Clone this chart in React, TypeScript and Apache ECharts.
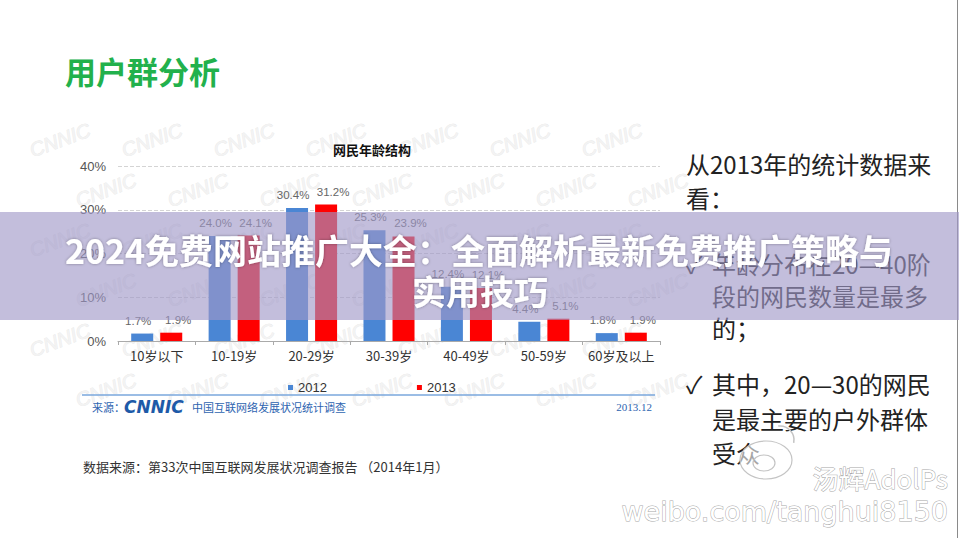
import React, { useEffect, useRef } from "react";
import * as echarts from "echarts";

const categories = ["10岁以下", "10-19岁", "20-29岁", "30-39岁", "40-49岁", "50-59岁", "60岁及以上"];
const series2012 = [1.7, 24.0, 30.4, 25.3, 12.4, 4.4, 1.8];
const series2013 = [1.9, 24.1, 31.2, 23.9, 12.1, 5.1, 1.9];
const yMin = 0;
const yMax = 40;
const yInterval = 10;
const legendNames = ["2012", "2013"];

const slideTitle = "用户群分析";
const chartTitle = "网民年龄结构";
const bannerLines = ["2024免费网站推广大全：全面解析最新免费推广策略与", "实用技巧"];
const rightLines = [
  "从2013年的统计数据来",
  "看：",
  "✓",
  "年龄分布在20—40阶",
  "段的网民数量是最多",
  "的；",
  "✓",
  "其中，20—30的网民",
  "是最主要的户外群体",
  "受众",
];
const sourceNote = "数据来源：第33次中国互联网发展状况调查报告 （2014年1月）";

const CJK = '"Noto Sans CJK SC", "Noto Sans", sans-serif';

export default function App() {
  const ref = useRef<HTMLDivElement>(null);
  useEffect(() => {
    if (!ref.current) return;
    const chart = echarts.init(ref.current, null, { renderer: "svg" });

    const watermarks: any[] = [];
    for (let r = 0; r < 6; r++) {
      for (let c = 0; c < 7; c++) {
        const x = 60 + c * 92 + (r % 2) * 46;
        const y = 140 + r * 50;
        watermarks.push({
          type: "text",
          x,
          y,
          rotation: 0.35,
          z: 0,
          silent: true,
          style: {
            text: "CNNIC",
            fill: "#f3f3f3",
            stroke: "#e6e6e6",
            lineWidth: 0.6,
            font: 'italic 20px "Liberation Sans", sans-serif',
            textAlign: "center",
            textVerticalAlign: "middle",
          },
        });
      }
    }

    const rightY = [163, 197, 263, 263, 295, 327, 383, 383, 418, 452];
    const rightX = [686, 686, 686, 712, 712, 712, 686, 712, 712, 712];
    const rightTexts = rightLines.map((t, i) => ({
      type: "text",
      x: rightX[i],
      y: rightY[i],
      z: 10,
      style: {
        text: t,
        fill: "#222",
        font: `24px ${CJK}`,
        textVerticalAlign: "middle",
      },
    }));

    const labelCfg = (dx: number) => ({
      show: true,
      position: "top",
      distance: 7,
      offset: [dx, 0],
      fontSize: 11.5,
      color: "#666",
      fontFamily: "Liberation Sans",
      formatter: (p: any) => p.value.toFixed(1) + "%",
    });

    const option: any = {
      animation: false,
      backgroundColor: "#ffffff",
      grid: { left: 118, right: 299, top: 166, bottom: 197 },
      legend: {
        data: legendNames,
        left: 283,
        top: 376,
        icon: "rect",
        itemWidth: 5,
        itemHeight: 5,
        itemGap: 90,
        textStyle: { fontSize: 13, color: "#333", fontFamily: "Liberation Sans" },
      },
      xAxis: {
        type: "category",
        data: categories,
        axisLine: { show: true, lineStyle: { color: "#aaa" } },
        axisTick: { show: true, length: 4, lineStyle: { color: "#aaa" } },
        axisLabel: { interval: 0, fontSize: 13, color: "#333", margin: 8, fontFamily: CJK },
      },
      yAxis: {
        type: "value",
        min: yMin,
        max: yMax,
        interval: yInterval,
        axisLine: { show: false },
        axisTick: { show: false },
        axisLabel: { formatter: "{value}%", fontSize: 13, color: "#555", margin: 12, fontFamily: "Liberation Sans" },
        splitLine: { lineStyle: { color: "#d4d4d4", type: "dashed" } },
      },
      series: [
        {
          name: legendNames[0],
          type: "bar",
          data: series2012,
          barWidth: 22,
          barGap: "32%",
          itemStyle: { color: "#4a86d4" },
          label: labelCfg(-4),
        },
        {
          name: legendNames[1],
          type: "bar",
          data: series2013,
          barWidth: 22,
          itemStyle: { color: "#ff0000" },
          label: labelCfg(7),
        },
      ],
      graphic: [
        ...watermarks,
        {
          type: "text",
          x: 65,
          y: 70,
          z: 10,
          style: { text: slideTitle, fill: "#22b14c", font: `bold 31px ${CJK}`, textVerticalAlign: "middle" },
        },
        {
          type: "text",
          x: 372,
          y: 149,
          z: 10,
          style: { text: chartTitle, fill: "#111", font: `bold 13px ${CJK}`, textAlign: "center", textVerticalAlign: "middle" },
        },
        {
          type: "line",
          z: 10,
          shape: { x1: 82, y1: 395, x2: 655, y2: 395 },
          style: { stroke: "#7aa7dc", lineWidth: 1.5 },
        },
        {
          type: "text",
          x: 92,
          y: 407,
          z: 10,
          style: { text: "来源：", fill: "#2e64b0", font: `11px ${CJK}`, textVerticalAlign: "middle" },
        },
        {
          type: "text",
          x: 124,
          y: 407,
          z: 10,
          style: { text: "CNNIC", fill: "#1e5aa8", font: 'italic 900 17px "DejaVu Sans", sans-serif', textVerticalAlign: "middle" },
        },
        {
          type: "text",
          x: 192,
          y: 407,
          z: 10,
          style: { text: "中国互联网络发展状况统计调查", fill: "#2e64b0", font: `11px ${CJK}`, textVerticalAlign: "middle" },
        },
        {
          type: "text",
          x: 652,
          y: 407,
          z: 10,
          style: { text: "2013.12", fill: "#2e64b0", font: '11px "Liberation Serif", serif', textAlign: "right", textVerticalAlign: "middle" },
        },
        {
          type: "text",
          x: 83,
          y: 466,
          z: 10,
          style: { text: sourceNote, fill: "#333", font: `13px ${CJK}`, textVerticalAlign: "middle" },
        },
        ...rightTexts,
        {
          type: "line",
          z: 10,
          shape: { x1: 957.5, y1: 0, x2: 957.5, y2: 538 },
          style: { stroke: "#8a8a8a", lineWidth: 1 },
        },
        {
          type: "rect",
          z: 50,
          silent: true,
          shape: { x: 0, y: 212, width: 959, height: 108 },
          style: { fill: "rgba(160,152,200,0.63)" },
        },
        {
          type: "text",
          x: 479,
          y: 249,
          z: 51,
          style: {
            text: bannerLines[0],
            fill: "#ffffff",
            font: `bold 34px ${CJK}`,
            textAlign: "center",
            textVerticalAlign: "middle",
            textShadowColor: "rgba(0,0,0,0.35)",
            textShadowBlur: 3,
          },
        },
        {
          type: "text",
          x: 480,
          y: 290,
          z: 51,
          style: {
            text: bannerLines[1],
            fill: "#ffffff",
            font: `bold 34px ${CJK}`,
            textAlign: "center",
            textVerticalAlign: "middle",
            textShadowColor: "rgba(0,0,0,0.35)",
            textShadowBlur: 3,
          },
        },
        {
          type: "ellipse",
          z: 60,
          shape: { cx: 766, cy: 460, rx: 26, ry: 19 },
          style: { fill: "rgba(255,255,255,0.6)", stroke: "#c4c4c4", lineWidth: 1.2 },
        },
        {
          type: "ellipse",
          z: 61,
          shape: { cx: 764, cy: 463, rx: 11, ry: 8 },
          style: { fill: "none", stroke: "#c4c4c4", lineWidth: 1.2 },
        },
        {
          type: "arc",
          z: 61,
          shape: { cx: 780, cy: 440, r: 14, startAngle: -1.7, endAngle: 0.2 },
          style: { fill: "none", stroke: "#c4c4c4", lineWidth: 1.5 },
        },
        {
          type: "text",
          x: 948,
          y: 477,
          z: 60,
          style: {
            text: "汤辉AdolPs",
            fill: "#ffffff",
            stroke: "#a8a8a8",
            lineWidth: 1,
            font: `26px ${CJK}`,
            textAlign: "right",
            textVerticalAlign: "middle",
          },
        },
        {
          type: "text",
          x: 948,
          y: 511,
          z: 60,
          style: {
            text: "weibo.com/tanghui8150",
            fill: "#ffffff",
            stroke: "#a8a8a8",
            lineWidth: 1,
            font: '27px "DejaVu Sans", sans-serif',
            textAlign: "right",
            textVerticalAlign: "middle",
          },
        },
      ],
    };
    chart.setOption(option);
    return () => chart.dispose();
  }, []);
  return (
    <div
      ref={ref}
      style={{ position: "fixed", left: 0, top: 0, width: 959, height: 538 }}
    />
  );
}
